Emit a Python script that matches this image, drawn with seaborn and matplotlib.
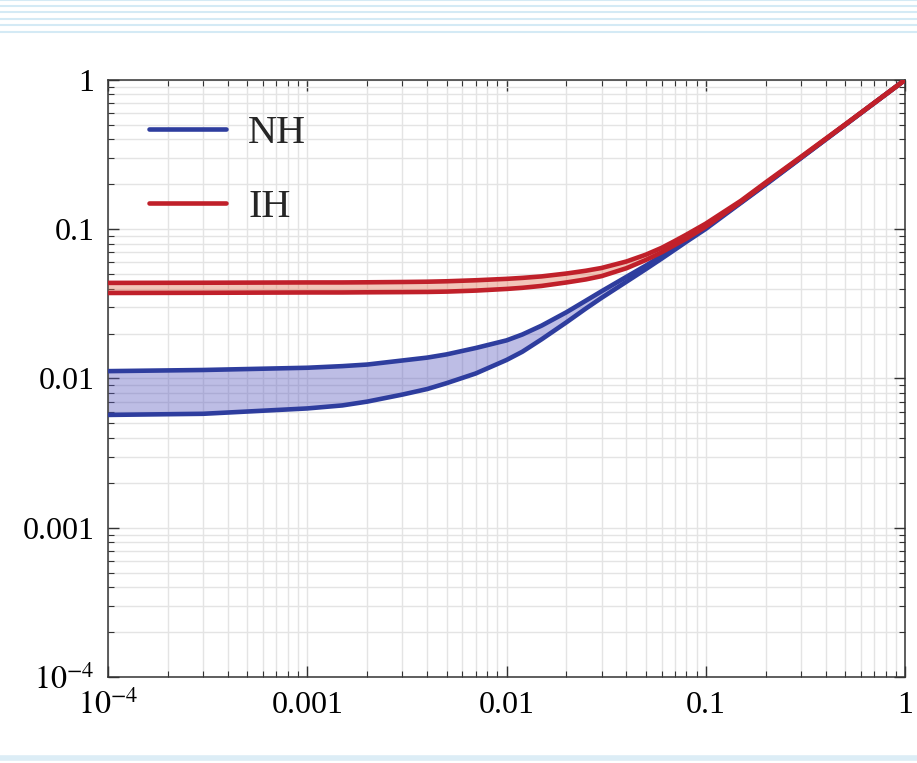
import numpy as np
import pandas as pd
import matplotlib
matplotlib.use("Agg")
import matplotlib.pyplot as plt
import seaborn as sns
from matplotlib.lines import Line2D

# Values
x_vals = [1e-4, 3e-4, 1e-3, 1.5e-3, 2e-3, 3e-3, 4e-3, 5e-3, 7e-3, 0.01, 0.012, 0.015, 0.02, 0.025,
          0.03, 0.04, 0.05, 0.06, 0.07, 0.08, 0.1, 0.15, 0.2, 0.3, 0.5, 1.0]
nh_upper = [0.0112, 0.0114, 0.0118, 0.0121, 0.0124, 0.0132, 0.0138, 0.0145, 0.0160, 0.0180, 0.0197, 0.0226,
            0.0278, 0.0332, 0.0384, 0.0480, 0.0570, 0.0663, 0.0755, 0.0845, 0.1030, 0.151, 0.2005, 0.300,
            0.500, 1.0]
nh_lower = [0.0057, 0.0058, 0.0063, 0.0066, 0.0070, 0.0078, 0.0085, 0.0093, 0.0108, 0.0133, 0.0151, 0.0183,
            0.0238, 0.0294, 0.0347, 0.0445, 0.0540, 0.0635, 0.0730, 0.0825, 0.1005, 0.150, 0.199, 0.299,
            0.499, 1.0]
ih_upper = [0.0437, 0.0438, 0.0440, 0.0440, 0.0441, 0.0443, 0.0445, 0.0448, 0.0455, 0.0465, 0.0472, 0.0483,
            0.0505, 0.0527, 0.0550, 0.0608, 0.0675, 0.0750, 0.0835, 0.0920, 0.1090, 0.155, 0.206, 0.305,
            0.503, 1.0]
ih_lower = [0.0374, 0.0375, 0.0377, 0.0377, 0.0378, 0.0379, 0.0380, 0.0382, 0.0388, 0.0398, 0.0405, 0.0417,
            0.0440, 0.0461, 0.0485, 0.0548, 0.0622, 0.0700, 0.0785, 0.0865, 0.1040, 0.1525, 0.203, 0.302,
            0.501, 1.0]

tick_vals = [1e-4, 1e-3, 1e-2, 1e-1, 1]
x_labels = [r"$10^{-4}$", "0.001", "0.01", "0.1", "1"]
y_labels = [r"$10^{-4}$", "0.001", "0.01", "0.1", "1"]

df = pd.DataFrame({
    "x": x_vals,
    "nh_upper": nh_upper,
    "nh_lower": nh_lower,
    "ih_upper": ih_upper,
    "ih_lower": ih_lower,
})

sns.set_theme(style="ticks")
plt.rcParams["font.family"] = ["Liberation Serif", "DejaVu Serif"]
plt.rcParams["mathtext.fontset"] = "stix"

blue = "#2e3d9e"
red = "#c0202a"

fig = plt.figure(figsize=(9.17, 7.63), dpi=100)
ax = fig.add_axes([0.1178, 0.1127, 0.8691, 0.7825])
ax.set_xscale("log")
ax.set_yscale("log")

# Shaded bands
ax.fill_between(df["x"], df["nh_lower"], df["nh_upper"], color="#5a5abf", alpha=0.4, lw=0, zorder=2)
ax.fill_between(df["x"], df["ih_lower"], df["ih_upper"], color="#e07050", alpha=0.4, lw=0, zorder=3)

# Boundary curves
sns.lineplot(data=df, x="x", y="nh_upper", color=blue, lw=3.3, ax=ax, label="NH", zorder=4)
sns.lineplot(data=df, x="x", y="nh_lower", color=blue, lw=3.3, ax=ax, label="_nolegend_", zorder=4)
sns.lineplot(data=df, x="x", y="ih_upper", color=red, lw=3.3, ax=ax, label="IH", zorder=5)
sns.lineplot(data=df, x="x", y="ih_lower", color=red, lw=3.3, ax=ax, label="_nolegend_", zorder=5)

ax.set_xlim(1e-4, 1)
ax.set_ylim(1e-4, 1)
ax.set_xticks(tick_vals)
ax.set_xticklabels(x_labels)
ax.set_yticks(tick_vals)
ax.set_yticklabels(y_labels)
ax.set_xlabel("")
ax.set_ylabel("")

ax.grid(which="both", color="#e4e4e4", lw=1.0, zorder=0)
ax.set_axisbelow(True)
ax.tick_params(which="both", direction="in", top=True, right=True, colors="#333333",
               labelcolor="black")
ax.tick_params(which="major", length=8, width=1.0, labelsize=23, pad=10)
ax.tick_params(which="minor", length=4, width=0.8)
for s in ax.spines.values():
    s.set_color("#333333")
    s.set_linewidth(1.1)

leg = ax.legend(loc="upper left", bbox_to_anchor=(0.052, 0.942), frameon=False,
                fontsize=29, handlelength=1.9, handletextpad=0.55, labelspacing=0.92,
                borderpad=0.0, borderaxespad=0.0)

# slide background stripes
for yy in [1.0, 0.992, 0.984, 0.975, 0.967, 0.958]:
    fig.add_artist(Line2D([0, 1], [yy, yy], transform=fig.transFigure, color="#d4eaf5", lw=1.5))
fig.add_artist(Line2D([0, 1], [0.006, 0.006], transform=fig.transFigure, color="#dcedf6", lw=4))

fig.savefig("out.png", dpi=100)
